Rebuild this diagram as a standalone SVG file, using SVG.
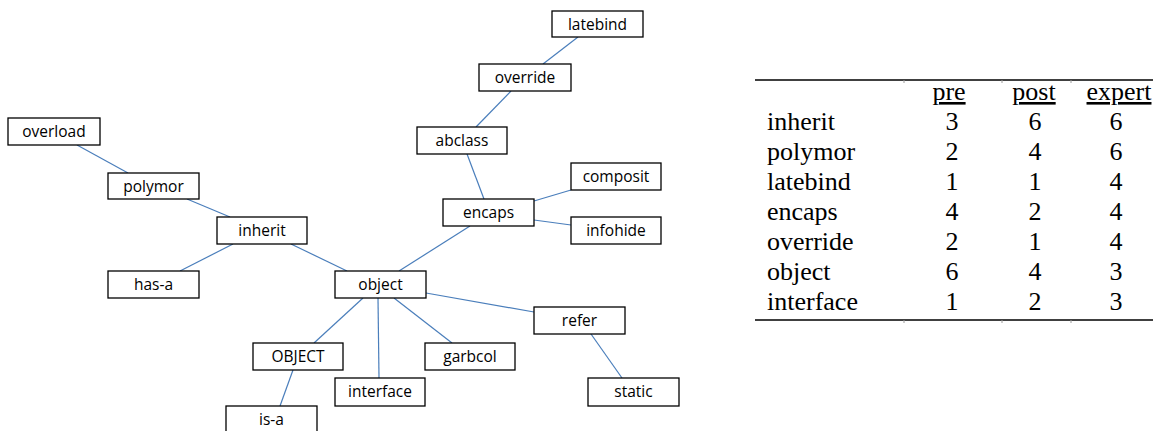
<svg xmlns="http://www.w3.org/2000/svg" width="1157" height="431" viewBox="0 0 1157 431">
  <style>
    .node rect { fill: #ffffff; stroke: #000000; stroke-width: 1.3; }
    .node text { font-family: "Open Sans", "Liberation Sans", sans-serif; font-size: 15.5px; fill: #000000; text-anchor: middle; }
    .links line { stroke: #4a7ebb; stroke-width: 1.2; }
    .tbl text { font-family: "Liberation Serif", "Times New Roman", serif; font-size: 26px; fill: #000000; }
    .tbl .num { text-anchor: middle; }
    .tbl .hd { text-anchor: middle; text-decoration: underline; }
    .rule { stroke: #000000; stroke-width: 1.6; }
    .tick { stroke: #9a9a9a; stroke-width: 1; }
  </style>

  <!-- connectors -->
  <g id="connectors" class="links">
    <line x1="77" y1="145" x2="128" y2="173"/>
    <line x1="187" y1="199" x2="230" y2="217"/>
    <line x1="233" y1="244" x2="180" y2="271"/>
    <line x1="291" y1="244" x2="347" y2="271"/>
    <line x1="470" y1="226" x2="399" y2="271"/>
    <line x1="363" y1="298" x2="314" y2="343"/>
    <line x1="378" y1="298" x2="379" y2="378"/>
    <line x1="394" y1="298" x2="452" y2="343"/>
    <line x1="426" y1="293" x2="534" y2="312"/>
    <line x1="293" y1="370" x2="280" y2="406"/>
    <line x1="578" y1="37" x2="543" y2="64"/>
    <line x1="511" y1="91" x2="476" y2="127"/>
    <line x1="467" y1="154" x2="484" y2="199"/>
    <line x1="534" y1="201" x2="571" y2="190"/>
    <line x1="534" y1="220" x2="571" y2="225"/>
    <line x1="591" y1="334" x2="622" y2="378"/>
  </g>

  <!-- concept nodes -->
  <g id="latebind" class="node"><rect x="552" y="11" width="91" height="26"/><text x="597.5" y="29.5">latebind</text></g>
  <g id="override" class="node"><rect x="479" y="64" width="92" height="27"/><text x="525" y="82.5">override</text></g>
  <g id="abclass" class="node"><rect x="417" y="127" width="90" height="27"/><text x="462" y="145.5">abclass</text></g>
  <g id="composit" class="node"><rect x="571" y="163" width="90" height="27"/><text x="616" y="181.5">composit</text></g>
  <g id="encaps" class="node"><rect x="443" y="199" width="91" height="27"/><text x="488.5" y="217.5">encaps</text></g>
  <g id="infohide" class="node"><rect x="571" y="217" width="90" height="27"/><text x="616" y="235.5">infohide</text></g>
  <g id="overload" class="node"><rect x="8" y="118" width="92" height="27"/><text x="54" y="136.5">overload</text></g>
  <g id="polymor" class="node"><rect x="108" y="173" width="91" height="26"/><text x="153.5" y="191.5">polymor</text></g>
  <g id="inherit" class="node"><rect x="217" y="217" width="90" height="27"/><text x="262" y="235.5">inherit</text></g>
  <g id="has-a" class="node"><rect x="108" y="271" width="91" height="27"/><text x="153.5" y="289.5">has-a</text></g>
  <g id="object" class="node"><rect x="335" y="271" width="91" height="27"/><text x="380.5" y="289.5">object</text></g>
  <g id="OBJECT" class="node"><rect x="253" y="343" width="90" height="27"/><text x="298" y="361.5">OBJECT</text></g>
  <g id="garbcol" class="node"><rect x="425" y="343" width="90" height="27"/><text x="470" y="361.5">garbcol</text></g>
  <g id="refer" class="node"><rect x="534" y="307" width="91" height="27"/><text x="579.5" y="325.5">refer</text></g>
  <g id="interface" class="node"><rect x="335" y="378" width="90" height="28"/><text x="380" y="397">interface</text></g>
  <g id="static" class="node"><rect x="588" y="378" width="91" height="28"/><text x="633.5" y="397">static</text></g>
  <g id="is-a" class="node"><rect x="226" y="406" width="91" height="27"/><text x="271.5" y="424.5">is-a</text></g>

  <!-- score table -->
  <g id="score-table" class="tbl">
    <line class="rule" x1="755" y1="80" x2="1153" y2="80"/>
    <line class="rule" x1="755" y1="320" x2="1153" y2="320"/>
    <line class="tick" x1="904" y1="80" x2="904" y2="83"/>
    <line class="tick" x1="1002" y1="80" x2="1002" y2="83"/>
    <line class="tick" x1="1071" y1="80" x2="1071" y2="83"/>
    <line class="tick" x1="904" y1="320" x2="904" y2="323"/>
    <line class="tick" x1="1002" y1="320" x2="1002" y2="323"/>
    <line class="tick" x1="1071" y1="320" x2="1071" y2="323"/>

    <text class="hd" x="949" y="100">pre</text>
    <text class="hd" x="1034" y="100">post</text>
    <text class="hd" x="1119" y="100">expert</text>

    <text x="767" y="130">inherit</text>
    <text class="num" x="952" y="130">3</text><text class="num" x="1035" y="130">6</text><text class="num" x="1116" y="130">6</text>

    <text x="767" y="160">polymor</text>
    <text class="num" x="952" y="160">2</text><text class="num" x="1035" y="160">4</text><text class="num" x="1116" y="160">6</text>

    <text x="767" y="190">latebind</text>
    <text class="num" x="952" y="190">1</text><text class="num" x="1035" y="190">1</text><text class="num" x="1116" y="190">4</text>

    <text x="767" y="220">encaps</text>
    <text class="num" x="952" y="220">4</text><text class="num" x="1035" y="220">2</text><text class="num" x="1116" y="220">4</text>

    <text x="767" y="250">override</text>
    <text class="num" x="952" y="250">2</text><text class="num" x="1035" y="250">1</text><text class="num" x="1116" y="250">4</text>

    <text x="767" y="280">object</text>
    <text class="num" x="952" y="280">6</text><text class="num" x="1035" y="280">4</text><text class="num" x="1116" y="280">3</text>

    <text x="767" y="310">interface</text>
    <text class="num" x="952" y="310">1</text><text class="num" x="1035" y="310">2</text><text class="num" x="1116" y="310">3</text>
  </g>
</svg>
